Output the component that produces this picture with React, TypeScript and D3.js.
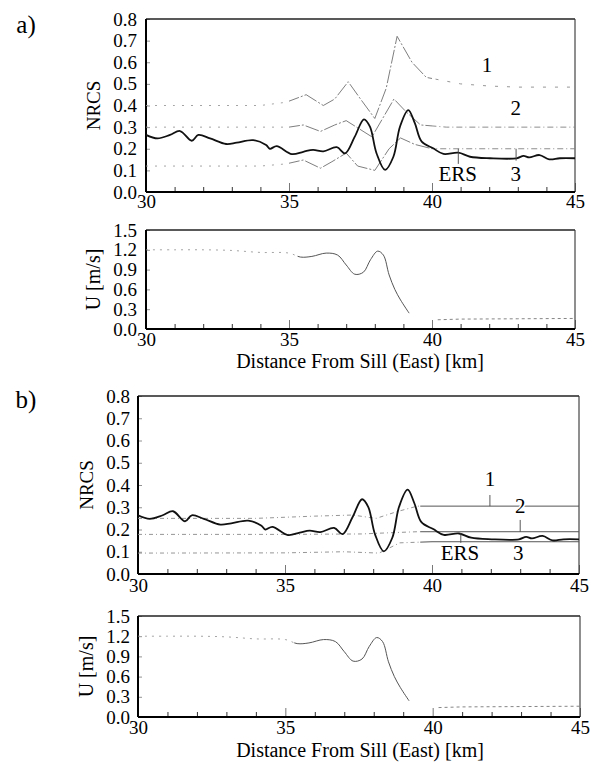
import React, { useEffect, useRef } from 'react';
import * as d3 from 'd3';

// measured NRCS profile (the bold trace, same in a and b)
const measuredKm = [30.0, 30.4, 30.84, 31.19, 31.6, 31.83, 32.24, 32.8, 33.17, 33.75, 34.2, 34.33, 34.57, 35.1, 35.5, 35.84, 36.2, 36.67, 36.96, 37.3, 37.62, 37.83, 38.06, 38.36, 38.65, 38.88, 39.17, 39.4, 39.64, 40.04, 40.4, 40.92, 41.33, 42.03, 42.96, 43.2, 43.4, 43.76, 44.1, 44.47, 45.0];
const measuredNrcs = [0.264, 0.248, 0.264, 0.282, 0.237, 0.264, 0.248, 0.222, 0.228, 0.24, 0.217, 0.2, 0.212, 0.175, 0.186, 0.195, 0.188, 0.207, 0.179, 0.256, 0.336, 0.302, 0.179, 0.102, 0.163, 0.302, 0.379, 0.318, 0.233, 0.202, 0.176, 0.182, 0.163, 0.156, 0.156, 0.167, 0.16, 0.171, 0.151, 0.156, 0.156];

// surface current U
const currentKm = [30, 31, 32, 33, 34, 35, 35.4, 35.8, 36.3, 36.7, 37.0, 37.3, 37.6, 37.85, 38.1, 38.3, 38.5, 38.7, 38.9, 39.2];
const currentU = [1.2, 1.2, 1.2, 1.19, 1.16, 1.15, 1.09, 1.1, 1.15, 1.12, 0.97, 0.83, 0.86, 1.05, 1.18, 1.12, 0.82, 0.6, 0.44, 0.24];
const currentTailKm = [40.2, 41, 43, 45];
const currentTailU = [0.14, 0.15, 0.155, 0.16];

// a) model curves 1-3
const modelA1Km = [30, 31, 32, 33, 34, 34.9, 35.6, 36.2, 36.6, 37.07, 37.5, 38.0, 38.4, 38.78, 39.3, 39.8, 41, 42, 43, 44, 45];
const modelA1 = [0.4, 0.4, 0.4, 0.4, 0.4, 0.415, 0.45, 0.4, 0.43, 0.51, 0.43, 0.34, 0.48, 0.72, 0.6, 0.53, 0.5, 0.49, 0.485, 0.485, 0.485];
const modelA2Km = [30, 32, 34, 35, 35.5, 36.1, 36.6, 37.0, 37.9, 38.67, 39.1, 39.6, 40.5, 45];
const modelA2 = [0.3, 0.3, 0.3, 0.3, 0.31, 0.28, 0.31, 0.33, 0.255, 0.43, 0.37, 0.31, 0.3, 0.3];
const modelA3Km = [30, 32, 34, 34.9, 35.5, 36.1, 36.5, 37.0, 37.4, 38.0, 38.5, 38.9, 39.4, 40.0, 45];
const modelA3 = [0.12, 0.12, 0.12, 0.13, 0.148, 0.11, 0.14, 0.18, 0.12, 0.1, 0.2, 0.25, 0.22, 0.2, 0.2];

// b) model curves 1-3
const modelB1Km = [30, 32, 34, 35, 36, 37.3, 38.1, 38.8, 39.5, 45];
const modelB1 = [0.25, 0.25, 0.25, 0.255, 0.26, 0.265, 0.25, 0.28, 0.305, 0.305];
const modelB2Km = [30, 35, 37.6, 38.5, 39.5, 45];
const modelB2 = [0.178, 0.178, 0.18, 0.185, 0.19, 0.19];
const modelB3Km = [30, 35, 37, 38.2, 38.9, 40, 45];
const modelB3 = [0.094, 0.095, 0.1, 0.094, 0.14, 0.145, 0.145];

const nrcsTicks = [0, 0.1, 0.2, 0.3, 0.4, 0.5, 0.6, 0.7, 0.8];
const uTicks = [0, 0.3, 0.6, 0.9, 1.2, 1.5];
const kmTicks = [30, 35, 40, 45];
const kmMinor = [31, 32, 33, 34, 36, 37, 38, 39, 41, 42, 43, 44];

const labelsA = ['1', '2', '3', 'ERS'];
const labelsAKm = [41.92, 42.93, 42.93, 40.9];
const labelsAVal = [0.59, 0.39, 0.085, 0.085];
const leadersAKm = [40.92, 42.94];
const leadersAFrom = [0.2, 0.2];
const leadersATo = [0.13, 0.145];

const labelsB = ['1', '2', '3', 'ERS'];
const labelsBKm = [41.97, 43.0, 42.93, 40.95];
const labelsBVal = [0.43, 0.305, 0.094, 0.094];
const leadersBKm = [41.97, 43.0, 40.98];
const leadersBFrom = [0.355, 0.243, 0.184];
const leadersBTo = [0.305, 0.19, 0.14];

const FONT = "'Liberation Serif', 'DejaVu Serif', 'Times New Roman', serif";

let clipCount = 0;

const App = () => {
  const svgRef = useRef(null);

  useEffect(() => {
    const svg = d3.select(svgRef.current);
    svg.selectAll('*').remove();
    const defs = svg.append('defs');

    const panel = (box, yMax, yTicks, fmt, title, titleX, xPad) => {
      const x = d3.scaleLinear().domain([30, 45]).range([box.left, box.right]);
      const y = d3.scaleLinear().domain([0, yMax]).range([box.bottom, box.top]);
      const g = svg.append('g');

      const ya = g.append('g').attr('transform', `translate(${box.left},0)`)
        .call(d3.axisLeft(y).tickValues(yTicks).tickFormat(d3.format(fmt)).tickSizeInner(-4).tickSizeOuter(0).tickPadding(box.left - box.labelRight));
      ya.attr('font-family', null).attr('font-size', null);
      ya.select('.domain').remove();
      ya.selectAll('line').attr('stroke', '#777').attr('stroke-width', 0.8);
      ya.selectAll('text').style('font-family', FONT).style('font-size', '19px').attr('fill', '#000');

      const xa = g.append('g').attr('transform', `translate(0,${box.bottom})`)
        .call(d3.axisBottom(x).tickValues(kmTicks).tickFormat(d3.format('d')).tickSizeInner(-9).tickSizeOuter(0).tickPadding(xPad));
      xa.attr('font-family', null).attr('font-size', null);
      xa.select('.domain').remove();
      xa.selectAll('line').attr('stroke', '#555').attr('stroke-width', 0.8);
      xa.selectAll('text').style('font-family', FONT).style('font-size', '19px').attr('fill', '#000');

      const xm = g.append('g').attr('transform', `translate(0,${box.bottom})`)
        .call(d3.axisBottom(x).tickValues(kmMinor).tickFormat(() => '').tickSizeInner(-5).tickSizeOuter(0));
      xm.select('.domain').remove();
      xm.selectAll('line').attr('stroke', '#333').attr('stroke-width', 1);

      // frame
      g.append('line').attr('x1', box.left).attr('x2', box.right).attr('y1', box.top).attr('y2', box.top).attr('stroke', '#222').attr('stroke-width', 1.6);
      g.append('line').attr('x1', box.right).attr('x2', box.right).attr('y1', box.top).attr('y2', box.bottom).attr('stroke', '#333').attr('stroke-width', 1.1);
      g.append('line').attr('x1', box.left).attr('x2', box.right).attr('y1', box.bottom).attr('y2', box.bottom).attr('stroke', '#000').attr('stroke-width', 2);
      g.append('line').attr('x1', box.left).attr('x2', box.left).attr('y1', box.top).attr('y2', box.bottom).attr('stroke', '#000').attr('stroke-width', 2);

      g.append('text')
        .attr('transform', `translate(${titleX},${(box.top + box.bottom) / 2}) rotate(-90)`)
        .attr('text-anchor', 'middle')
        .attr('dy', '0.35em')
        .style('font-family', FONT)
        .style('font-size', title === 'NRCS' ? '19px' : '20px')
        .text(title);

      return { g, x, y, box };
    };

    const series = (p, kms, vals, zones, curve) => {
      const line = d3.line().x((d) => p.x(d[0])).y((d) => p.y(d[1])).curve(curve);
      const pts = kms.map((k, i) => [k, vals[i]]);
      zones.forEach((z) => {
        const id = `clip${clipCount++}`;
        defs.append('clipPath').attr('id', id).append('rect')
          .attr('x', p.x(z.from)).attr('y', p.box.top - 2)
          .attr('width', p.x(z.to) - p.x(z.from)).attr('height', p.box.bottom - p.box.top + 4);
        p.g.append('path')
          .datum(pts)
          .attr('d', line)
          .attr('fill', 'none')
          .attr('stroke', z.stroke)
          .attr('stroke-width', z.width)
          .attr('stroke-dasharray', z.dash)
          .attr('clip-path', `url(#${id})`);
      });
    };

    const annotate = (p, texts, kms, vals, lkm, lfrom, lto) => {
      lkm.forEach((k, i) => {
        p.g.append('line')
          .attr('x1', p.x(k)).attr('x2', p.x(k))
          .attr('y1', p.y(lfrom[i])).attr('y2', p.y(lto[i]))
          .attr('stroke', '#444').attr('stroke-width', 0.9);
      });
      texts.forEach((t, i) => {
        p.g.append('text')
          .attr('x', p.x(kms[i])).attr('y', p.y(vals[i]))
          .attr('dy', '0.35em')
          .attr('text-anchor', 'middle')
          .style('font-family', FONT)
          .style('font-size', '21px')
          .attr('stroke', '#fff').attr('stroke-width', 3).attr('paint-order', 'stroke')
          .text(t);
      });
    };

    const full = { from: 30, to: 45 };
    const measuredZones = [{ ...full, stroke: '#111', width: 1.8, dash: null }];
    const aModelZones = [
      { from: 30, to: 35, stroke: '#9a9a9a', width: 0.9, dash: '2,7' },
      { from: 35, to: 40, stroke: '#6f6f6f', width: 0.9, dash: '14,2,2,2' },
      { from: 40, to: 45, stroke: '#808080', width: 0.9, dash: '6,3,1,3' },
    ];
    const aModel1Zones = [
      aModelZones[0],
      aModelZones[1],
      { from: 40, to: 45, stroke: '#8a8a8a', width: 0.9, dash: '3,9' },
    ];
    const bModelZones = [
      { from: 30, to: 39.6, stroke: '#8a8a8a', width: 0.9, dash: '4,3,1,3' },
      { from: 39.6, to: 45, stroke: '#555', width: 1, dash: null },
    ];
    const uZones = [
      { from: 30, to: 35.3, stroke: '#9a9a9a', width: 0.9, dash: '2,5' },
      { from: 35.3, to: 45, stroke: '#555', width: 1, dash: null },
    ];
    const tailZones = [{ ...full, stroke: '#777', width: 0.9, dash: '3,3' }];

    // ---- panel a ----
    const aTop = panel({ left: 146, right: 575, top: 19, bottom: 192, labelRight: 137 }, 0.8, nrcsTicks, '.1f', 'NRCS', 93, 2);
    series(aTop, modelA1Km, modelA1, aModel1Zones, d3.curveLinear);
    series(aTop, modelA2Km, modelA2, aModelZones, d3.curveLinear);
    series(aTop, modelA3Km, modelA3, aModelZones, d3.curveLinear);
    series(aTop, measuredKm, measuredNrcs, measuredZones, d3.curveCatmullRom);
    annotate(aTop, labelsA, labelsAKm, labelsAVal, leadersAKm, leadersAFrom, leadersATo);

    const aBot = panel({ left: 146, right: 575, top: 230, bottom: 329, labelRight: 137 }, 1.5, uTicks, '.1f', 'U [m/s]', 93, 3);
    series(aBot, currentKm, currentU, uZones, d3.curveCatmullRom);
    series(aBot, currentTailKm, currentTailU, tailZones, d3.curveLinear);

    // ---- panel b ----
    const bTop = panel({ left: 138, right: 579, top: 396, bottom: 574, labelRight: 130 }, 0.8, nrcsTicks, '.1f', 'NRCS', 86, 5);
    series(bTop, modelB1Km, modelB1, bModelZones, d3.curveLinear);
    series(bTop, modelB2Km, modelB2, bModelZones, d3.curveLinear);
    series(bTop, modelB3Km, modelB3, bModelZones, d3.curveLinear);
    series(bTop, measuredKm, measuredNrcs, measuredZones, d3.curveCatmullRom);
    annotate(bTop, labelsB, labelsBKm, labelsBVal, leadersBKm, leadersBFrom, leadersBTo);

    const bBot = panel({ left: 138, right: 580, top: 616, bottom: 717, labelRight: 130 }, 1.5, uTicks, '.1f', 'U [m/s]', 86, 3);
    series(bBot, currentKm, currentU, uZones, d3.curveCatmullRom);
    series(bBot, currentTailKm, currentTailU, tailZones, d3.curveLinear);

    // panel letters + x titles
    [['a)', 26, 33], ['b)', 26, 408]].forEach(([t, px, py]) => {
      svg.append('text').attr('x', px).attr('y', py).attr('text-anchor', 'middle')
        .style('font-family', FONT).style('font-size', '25px').text(t);
    });
    [[360, 368], [360, 757]].forEach(([px, py]) => {
      svg.append('text').attr('x', px).attr('y', py).attr('text-anchor', 'middle')
        .style('font-family', FONT).style('font-size', '20px').text('Distance From Sill (East) [km]');
    });
  }, []);

  return (
    <svg
      ref={svgRef}
      width={594}
      height={763}
      style={{ position: 'absolute', left: 0, top: 0, background: '#fff' }}
    />
  );
};

export default App;
